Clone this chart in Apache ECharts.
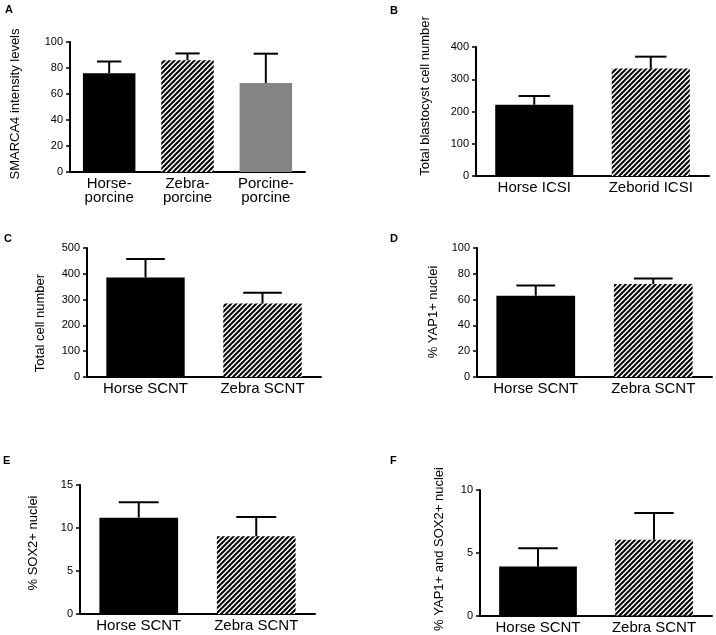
<!DOCTYPE html>
<html><head><meta charset="utf-8">
<script src="https://cdn.jsdelivr.net/npm/echarts@6/dist/echarts.min.js"></script>
<style>html,body{margin:0;padding:0;background:#fff}#c{width:716px;height:635px}</style>
</head><body><div id="c"></div>
<script>
// ---- data ----
const catsA = ['Horse-\nporcine', 'Zebra-\nporcine', 'Porcine-\nporcine'];
const meanA = [76, 86, 68.5];
const upperA = [85, 91.2, 91];
const ticksA = [0, 20, 40, 60, 80, 100];

const catsB = ['Horse ICSI', 'Zeborid ICSI'];
const meanB = [221, 333];
const upperB = [248, 370];
const ticksB = [0, 100, 200, 300, 400];

const catsC = ['Horse SCNT', 'Zebra SCNT'];
const meanC = [386, 285];
const upperC = [457, 327];
const ticksC = [0, 100, 200, 300, 400, 500];

const catsD = ['Horse SCNT', 'Zebra SCNT'];
const meanD = [63, 72];
const upperD = [71, 76.3];
const ticksD = [0, 20, 40, 60, 80, 100];

const catsE = ['Horse SCNT', 'Zebra SCNT'];
const meanE = [11.2, 9.03];
const upperE = [13, 11.28];
const ticksE = [0, 5, 10, 15];

const catsF = ['Horse SCNT', 'Zebra SCNT'];
const meanF = [3.9, 6.03];
const upperF = [5.36, 8.17];
const ticksF = [0, 5, 10];

const yTitles = ['SMARCA4 intensity levels', 'Total blastocyst cell number', 'Total cell number',
  '% YAP1+ nuclei', '% SOX2+ nuclei', '% YAP1+ and SOX2+ nuclei'];
const letters = ['A', 'B', 'C', 'D', 'E', 'F'];

// ---- styles ----
function hatchCanvas() {
  const s = 5;
  const c = document.createElement('canvas');
  c.width = s; c.height = s;
  const g = c.getContext('2d');
  g.fillStyle = '#fff'; g.fillRect(0, 0, s, s);
  g.strokeStyle = '#000'; g.lineWidth = 2;
  g.beginPath();
  g.moveTo(-1, s + 1); g.lineTo(s + 1, -1);
  g.moveTo(-2, 2); g.lineTo(2, -2);
  g.moveTo(s - 2, s + 2); g.lineTo(s + 2, s - 2);
  g.stroke();
  return c;
}
const hatch = { image: hatchCanvas(), repeat: 'repeat' };
const fills = ['#000', hatch, '#858585'];

const panels = [
  { cats: catsA, mean: meanA, upper: upperA, ticks: ticksA, grid: { left: 70, top: 42, width: 235, height: 130 }, cap: 0.31, title: [15.5, 104], letter: [5, 4] },
  { cats: catsB, mean: meanB, upper: upperB, ticks: ticksB, grid: { left: 476, top: 47, width: 233, height: 129 }, cap: 0.27, title: [425, 96], letter: [390, 5] },
  { cats: catsC, mean: meanC, upper: upperC, ticks: ticksC, grid: { left: 87, top: 248, width: 234, height: 129 }, cap: 0.33, title: [40, 323], letter: [4, 233] },
  { cats: catsD, mean: meanD, upper: upperD, ticks: ticksD, grid: { left: 477, top: 248, width: 235, height: 129 }, cap: 0.33, title: [433, 312], letter: [390, 233] },
  { cats: catsE, mean: meanE, upper: upperE, ticks: ticksE, grid: { left: 80, top: 485, width: 235, height: 129 }, cap: 0.34, title: [33.5, 543], letter: [3, 455] },
  { cats: catsF, mean: meanF, upper: upperF, ticks: ticksF, grid: { left: 480, top: 490, width: 232, height: 129 }, cap: 0.34, title: [439, 549], letter: [390, 455] }
];

const FONT = '"Liberation Sans", Arial, Helvetica, sans-serif';
const grids = [], xAxes = [], yAxes = [], series = [], graphics = [];

panels.forEach((p, i) => {
  grids.push(Object.assign({ containLabel: false }, p.grid));
  xAxes.push({
    type: 'category', gridIndex: i, data: p.cats,
    axisLine: { lineStyle: { color: '#000', width: 2 } },
    axisTick: { show: false },
    axisLabel: { color: '#000', fontSize: 15, fontFamily: FONT, margin: 5, lineHeight: 14, interval: 0 }
  });
  const tk = p.ticks;
  yAxes.push({
    type: 'value', gridIndex: i, min: tk[0], max: tk[tk.length - 1], interval: tk[1] - tk[0],
    axisLine: { show: true, lineStyle: { color: '#000', width: 2 } },
    axisTick: { show: true, length: 4, lineStyle: { color: '#000', width: 1.5 } },
    axisLabel: { color: '#000', fontSize: 11, fontFamily: FONT, margin: 7 },
    splitLine: { show: false }
  });
  series.push({
    type: 'bar', xAxisIndex: i, yAxisIndex: i, barCategoryGap: '33%', silent: true,
    data: p.mean.map((v, j) => ({ value: v, itemStyle: { color: fills[j] } })),
    z: 2
  });
  const errData = p.mean.map((v, j) => [j, v, p.upper[j]]);
  const capFrac = p.cap;
  series.push({
    type: 'custom', xAxisIndex: i, yAxisIndex: i, silent: true, z: 3,
    data: errData,
    renderItem: function (params, api) {
      const x = api.value(0);
      const lo = api.coord([x, api.value(1)]);
      const hi = api.coord([x, api.value(2)]);
      const band = api.size([1, 0])[0];
      const hw = band * capFrac / 2;
      const st = { stroke: '#000', lineWidth: 2 };
      return {
        type: 'group', children: [
          { type: 'line', shape: { x1: lo[0], y1: lo[1], x2: hi[0], y2: hi[1] }, style: st },
          { type: 'line', shape: { x1: hi[0] - hw, y1: hi[1], x2: hi[0] + hw, y2: hi[1] }, style: st }
        ]
      };
    }
  });
  graphics.push({
    type: 'text', x: p.title[0], y: p.title[1], rotation: Math.PI / 2,
    style: { text: yTitles[i], font: '13px ' + FONT, fill: '#000', align: 'center', verticalAlign: 'middle' }
  });
  graphics.push({
    type: 'text', x: p.letter[0], y: p.letter[1],
    style: { text: letters[i], font: 'bold 11px ' + FONT, fill: '#000', align: 'left', verticalAlign: 'top' }
  });
});

const chart = echarts.init(document.getElementById('c'), null, { renderer: 'canvas' });
chart.setOption({
  animation: false,
  backgroundColor: '#fff',
  grid: grids, xAxis: xAxes, yAxis: yAxes, series: series, graphic: graphics
});
</script></body></html>
